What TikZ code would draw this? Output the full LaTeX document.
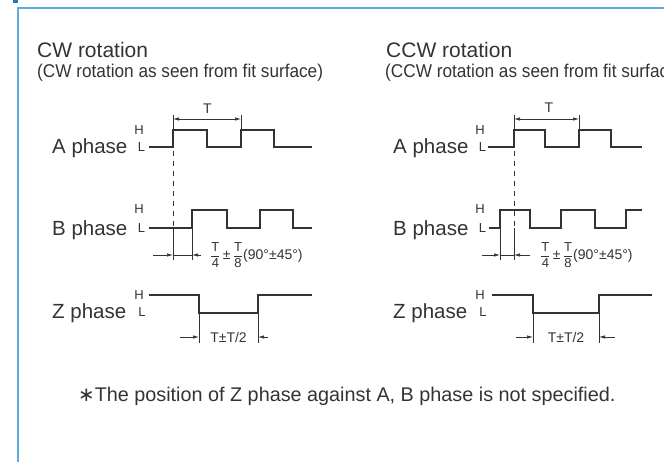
\documentclass[tikz,border=0pt]{standalone}
\usepackage{fontspec}
\setmainfont{Liberation Sans}
\newfontfamily\symfont{DejaVu Sans}
\usepackage{amsmath}
\usepackage{graphicx}
\usepackage{xcolor}
\usetikzlibrary{arrows.meta}

\definecolor{ink}{HTML}{333333}
\definecolor{framebl}{HTML}{5BAAE0}
\definecolor{markbl}{HTML}{1E78C8}

\newcommand\qfrac[2]{{\fontsize{13}{14}\selectfont$\dfrac{\mathrm{#1}}{\mathrm{#2}}$}}
\newcommand\cond[1]{\scalebox{0.93}[1]{#1}}

\tikzset{
  wave/.style={ink, line width=1.6pt, line join=miter},
  dimln/.style={ink, line width=0.7pt},
  tip/.tip={Latex[length=6pt,width=3.4pt]},
  guide/.style={ink, line width=0.8pt, dash pattern=on 5pt off 5pt},
  title/.style={ink, anchor=base west, inner sep=0pt, font=\fontsize{21}{24}\selectfont},
  subtitle/.style={ink, anchor=base west, inner sep=0pt, font=\fontsize{18.5}{20}\selectfont},
  phase/.style={ink, anchor=base west, inner sep=0pt, font=\fontsize{20.5}{24}\selectfont},
  level/.style={ink, inner sep=0pt, font=\fontsize{13}{15}\selectfont},
  dimtxt/.style={ink, inner sep=0pt, font=\fontsize{14}{16}\selectfont},
  note/.style={ink, anchor=base west, inner sep=0pt, font=\fontsize{19.8}{22}\selectfont}
}

\begin{document}
\begin{tikzpicture}[x=1pt, y=-1pt]
        \useasboundingbox (0,0) rectangle (664,461);
        \clip (0,0) rectangle (664,461);
        % Frame and heading mark
        \fill [markbl] (13,-4) rectangle (18,2.5);
        \draw [framebl, line width=1.3pt] (18,470) -- (18,8) -- (670,8);

        % CW rotation
        \node[title] (cwTitle) at (37,57) {CW rotation};
        \node[subtitle] (cwSub) at (37,77) {\cond{(CW rotation as seen from fit surface)}};
        \node[phase] (cwA) at (52,153) {A phase};
        \node[phase] (cwB) at (52,235) {B phase};
        \node[phase] (cwZ) at (52,318) {Z phase};
        \node[level] (cwAH) at (139,130) {H};
        \node[level] (cwAL) at (141.5,147.5) {L};
        \node[level] (cwBH) at (139,209.5) {H};
        \node[level] (cwBL) at (141.5,228) {L};
        \node[level] (cwZH) at (139,295) {H};
        \node[level] (cwZL) at (142,312.5) {L};
        % A phase
        \draw[wave] (149,147) -- (173,147) -- (173,130) -- (207,130) -- (207,147)
            -- (241,147) -- (241,130) -- (274,130) -- (274,147) -- (312,147);
        \draw[dimln] (173,115) -- (173,129);
        \draw[dimln] (241,115) -- (241,129);
        \coordinate (cwTa) at (173,119);
        \coordinate (cwTb) at (241,119);
        \draw[dimln, tip-tip] (cwTa) -- (cwTb);
        \node[dimtxt] (cwT) at (207.5,108.5) {T};
        \draw[guide] (173,151) -- (173,227);
        % B phase
        \draw[wave] (149,228) -- (192,228) -- (192,210) -- (227,210) -- (227,228)
            -- (260,228) -- (260,210) -- (293,210) -- (293,228) -- (312,228);
        \draw[dimln] (173,228) -- (173,260);
        \draw[dimln] (192,228) -- (192,260);
        \coordinate (cwBa) at (173,255);
        \coordinate (cwBb) at (192,255);
        \coordinate (cwBl) at (153,255);
        \coordinate (cwBr) at (201,255);
        \draw[dimln, -tip] (cwBl) -- (cwBa);
        \draw[dimln, -tip] (cwBr) -- (cwBb);
        \draw[dimln] (cwBa) -- (cwBb);
        \node[dimtxt, anchor=west] (cwBq) at (210,255)
            {\qfrac{T}{4}\,±\,\qfrac{T}{8}(90°±45°)};
        % Z phase
        \draw[wave] (149,295) -- (199,295) -- (199,313) -- (258,313) -- (258,295) -- (312,295);
        \draw[dimln] (199,313) -- (199,343);
        \draw[dimln] (258,313) -- (258,343);
        \coordinate (cwZa) at (199,337);
        \coordinate (cwZb) at (258,337);
        \coordinate (cwZl) at (180,337);
        \coordinate (cwZr) at (268,337);
        \draw[dimln, -tip] (cwZl) -- (cwZa);
        \draw[dimln, -tip] (cwZr) -- (cwZb);
        \node[dimtxt] (cwZq) at (228.5,337) {T±T/2};

        % CCW rotation
        \node[title] (ccwTitle) at (386,57) {CCW rotation};
        \node[subtitle] (ccwSub) at (385,77) {\cond{(CCW rotation as seen from fit surface)}};
        \node[phase] (ccwA) at (393,153) {A phase};
        \node[phase] (ccwB) at (393,235) {B phase};
        \node[phase] (ccwZ) at (393,318) {Z phase};
        \node[level] (ccwAH) at (480,130) {H};
        \node[level] (ccwAL) at (482.5,147.5) {L};
        \node[level] (ccwBH) at (480,209.5) {H};
        \node[level] (ccwBL) at (482.5,228) {L};
        \node[level] (ccwZH) at (480,295) {H};
        \node[level] (ccwZL) at (483,312.5) {L};
        % A phase
        \draw[wave] (488,147) -- (514,147) -- (514,130) -- (545,130) -- (545,147)
            -- (579,147) -- (579,130) -- (611,130) -- (611,147) -- (642,147);
        \draw[dimln] (514,115) -- (514,129);
        \draw[dimln] (579,115) -- (579,129);
        \coordinate (ccwTa) at (514,119);
        \coordinate (ccwTb) at (579,119);
        \draw[dimln, tip-tip] (ccwTa) -- (ccwTb);
        \node[dimtxt] (ccwT) at (549,107.5) {T};
        \draw[guide] (514,151) -- (514,227);
        % B phase
        \draw[wave] (489,228) -- (500,228) -- (500,210) -- (530,210) -- (530,228)
            -- (561,228) -- (561,210) -- (595,210) -- (595,228) -- (626,228)
            -- (626,210) -- (642,210);
        \draw[dimln] (500,228) -- (500,260);
        \draw[dimln] (514,228) -- (514,260);
        \coordinate (ccwBa) at (500,255);
        \coordinate (ccwBb) at (514,255);
        \coordinate (ccwBl) at (482,255);
        \coordinate (ccwBr) at (530,255);
        \draw[dimln, -tip] (ccwBl) -- (ccwBa);
        \draw[dimln, -tip] (ccwBr) -- (ccwBb);
        \draw[dimln] (ccwBa) -- (ccwBb);
        \node[dimtxt, anchor=west] (ccwBq) at (540,255)
            {\qfrac{T}{4}\,±\,\qfrac{T}{8}(90°±45°)};
        % Z phase
        \draw[wave] (492,295) -- (533,295) -- (533,313) -- (599,313) -- (599,295) -- (652,295);
        \draw[dimln] (533,313) -- (533,343);
        \draw[dimln] (599,313) -- (599,343);
        \coordinate (ccwZa) at (533,337);
        \coordinate (ccwZb) at (599,337);
        \coordinate (ccwZl) at (516,337);
        \coordinate (ccwZr) at (615,337);
        \draw[dimln, -tip] (ccwZl) -- (ccwZa);
        \draw[dimln, -tip] (ccwZr) -- (ccwZb);
        \node[dimtxt] (ccwZq) at (566,337) {T±T/2};

        % Note
        \node[note] (note) at (78,401) {{\symfont ∗}The position of Z phase against A, B phase is not specified.};
\end{tikzpicture}
\end{document}
